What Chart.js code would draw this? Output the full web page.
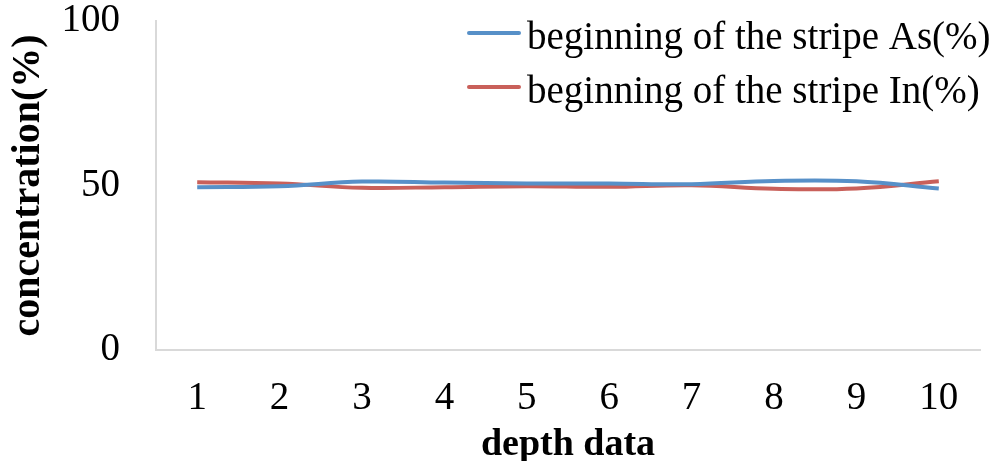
<!DOCTYPE html>
<html>
<head>
<meta charset="utf-8">
<script src="https://cdn.jsdelivr.net/npm/chart.js@4"></script>
<style>
html,body{margin:0;padding:0;background:#fff;}
#wrap{width:997px;height:461px;position:relative;}
</style>
</head>
<body>
<div id="wrap"><canvas id="c" width="997" height="461"></canvas></div>
<script>
const categories = ['1','2','3','4','5','6','7','8','9','10'];
const seriesAs = [49.5, 49.8, 51.2, 50.9, 50.6, 50.6, 50.4, 51.4, 51.3, 49.1];
const seriesIn = [51.0, 50.6, 49.3, 49.5, 49.8, 49.6, 50.1, 49.0, 49.1, 51.3];
const seriesNames = ['beginning of the stripe As(%)', 'beginning of the stripe In(%)'];
const yTicks = [0, 50, 100];
const xTitle = 'depth data';
const yTitle = 'concentration(%)';

const SERIF = '"Liberation Serif", "DejaVu Serif", serif';
const BLUE = '#5790C8';
const RED = '#C9605A';

const legendPlugin = {
  id: 'insideLegend',
  afterDraw(chart) {
    const ctx = chart.ctx;
    const rows = [33, 87];
    ctx.save();
    chart.data.datasets.forEach((ds, i) => {
      const y = rows[i];
      ctx.strokeStyle = ds.borderColor;
      ctx.lineWidth = 4;
      ctx.lineCap = 'round';
      ctx.beginPath();
      ctx.moveTo(469, y);
      ctx.lineTo(519, y);
      ctx.stroke();
      ctx.fillStyle = '#000';
      ctx.font = '39px ' + SERIF;
      ctx.textBaseline = 'alphabetic';
      ctx.textAlign = 'left';
      ctx.fillText(ds.label, 527, y + 16);
    });
    ctx.restore();
  }
};

new Chart(document.getElementById('c'), {
  type: 'line',
  data: {
    labels: categories,
    datasets: [
      { label: seriesNames[0], data: seriesAs, borderColor: BLUE, backgroundColor: BLUE, borderWidth: 4, pointRadius: 0, tension: 0.4, fill: false },
      { label: seriesNames[1], data: seriesIn, borderColor: RED, backgroundColor: RED, borderWidth: 4, pointRadius: 0, tension: 0.4, fill: false }
    ]
  },
  options: {
    responsive: false,
    animation: false,
    layout: { padding: { top: 0, right: 17, bottom: 0, left: 0 } },
    plugins: { legend: { display: false }, tooltip: { enabled: false } },
    scales: {
      x: {
        offset: true,
        grid: { display: false, drawTicks: false },
        border: { display: true, color: '#D9D9D9', width: 2 },
        ticks: { color: '#000', font: { family: SERIF, size: 39 }, padding: 25, maxRotation: 0, autoSkip: false },
        title: { display: true, text: xTitle, color: '#000', font: { family: SERIF, size: 38, weight: 'bold', lineHeight: 0.85 }, padding: { top: 0, bottom: 0 } },
        afterFit(scale) { scale.height = 111; }
      },
      y: {
        min: 0, max: 100,
        afterBuildTicks(scale) { scale.ticks = yTicks.map(v => ({ value: v })); },
        grid: { display: false, drawTicks: false },
        border: { display: true, color: '#D9D9D9', width: 2 },
        ticks: { color: '#000', font: { family: SERIF, size: 39 }, padding: 36 },
        title: { display: true, text: yTitle, color: '#000', font: { family: SERIF, size: 40, weight: 'bold' }, padding: { top: 5, bottom: 0 } },
        afterFit(scale) { scale.width = 156; scale.paddingTop = 21; scale.paddingBottom = 0; }
      }
    }
  },
  plugins: [legendPlugin]
});
</script>
</body>
</html>
